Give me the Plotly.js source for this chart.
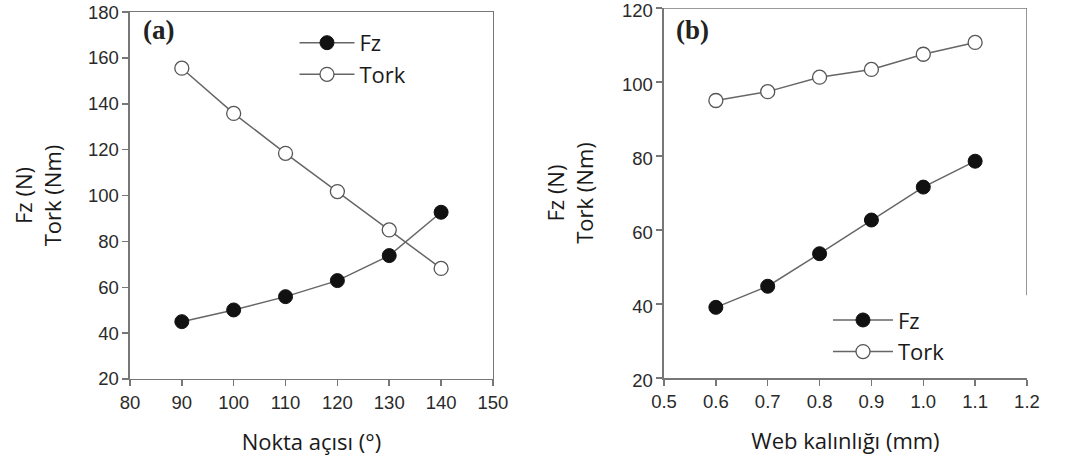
<!DOCTYPE html>
<html>
<head>
<meta charset="utf-8">
<script src="https://cdn.plot.ly/plotly-3.0.1.min.js"></script>
<style>html,body{margin:0;padding:0;background:#fff;}#chart{width:1067px;height:466px;}</style>
</head>
<body>
<div id="chart"></div>
<script>
// Panel (a): point angle
const angleX = [90, 100, 110, 120, 130, 140];
const angleFz = [45, 50.1, 55.9, 62.9, 73.8, 92.7];
const angleTork = [155.5, 135.8, 118.4, 101.7, 85, 68.2];
// Panel (b): web thickness
const webX = [0.6, 0.7, 0.8, 0.9, 1.0, 1.1];
const webFz = [39.1, 44.8, 53.6, 62.7, 71.6, 78.6];
const webTork = [95, 97.4, 101.3, 103.4, 107.5, 110.7];
const seriesNames = ['Fz', 'Tork'];

const lineCol = '#666';
const fzMarker = {symbol: 'circle', size: 14, color: '#111', line: {color: '#111', width: 1}};
const torkMarker = {symbol: 'circle', size: 14, color: '#fff', line: {color: '#555', width: 1.3}};

const traces = [
  {x: angleX, y: angleFz, name: seriesNames[0], mode: 'lines+markers', xaxis: 'x', yaxis: 'y', line: {color: lineCol, width: 1.5}, marker: fzMarker, legend: 'legend'},
  {x: angleX, y: angleTork, name: seriesNames[1], mode: 'lines+markers', xaxis: 'x', yaxis: 'y', line: {color: lineCol, width: 1.5}, marker: torkMarker, legend: 'legend'},
  {x: webX, y: webFz, name: seriesNames[0], mode: 'lines+markers', xaxis: 'x2', yaxis: 'y2', line: {color: lineCol, width: 1.5}, marker: fzMarker, legend: 'legend2'},
  {x: webX, y: webTork, name: seriesNames[1], mode: 'lines+markers', xaxis: 'x2', yaxis: 'y2', line: {color: lineCol, width: 1.5}, marker: torkMarker, legend: 'legend2'}
];

const tickFont = {family: 'Liberation Sans, Arial, sans-serif', size: 18.5, color: '#2a2a2a'};
const titleFont = {family: 'Open Sans, sans-serif', size: 22, color: '#1a1a1a'};
const legendFont = {family: 'Open Sans, sans-serif', size: 22, color: '#1a1a1a'};
const axisBase = {showgrid: false, zeroline: false, showline: true, linecolor: '#777', linewidth: 1.5, ticks: 'outside', ticklen: 6, tickcolor: '#777', tickwidth: 1.5, tickfont: tickFont, fixedrange: true, ticklabeloverflow: 'allow'};

const layout = {
  width: 1067, height: 466,
  margin: {l: 0, r: 0, t: 0, b: 0},
  paper_bgcolor: '#fff', plot_bgcolor: '#fff',
  showlegend: true,
  xaxis: Object.assign({}, axisBase, {domain: [0.1218, 0.4620], range: [80, 150], dtick: 10, tick0: 80, mirror: true, anchor: 'y',
    title: {text: 'Nokta açısı (°)', font: titleFont, standoff: 23}}),
  yaxis: Object.assign({}, axisBase, {domain: [0.1867, 0.9742], range: [20, 180], dtick: 20, tick0: 20, mirror: true, anchor: 'x',
    title: {text: 'Fz (N)<br>Tork (Nm)', font: titleFont, standoff: 20}}),
  xaxis2: Object.assign({}, axisBase, {domain: [0.6223, 0.9625], range: [0.5, 1.2], dtick: 0.1, tick0: 0.5, tickformat: '.1f', mirror: false, anchor: 'y2',
    title: {text: 'Web kalınlığı (mm)', font: titleFont, standoff: 23}}),
  yaxis2: Object.assign({}, axisBase, {domain: [0.1888, 0.9828], range: [20, 120], dtick: 20, tick0: 20, mirror: false, anchor: 'x2', ticklabelshift: 3,
    title: {text: 'Fz (N)<br>Tork (Nm)', font: titleFont, standoff: 22}}),
  shapes: [
    {type: 'line', xref: 'x2', yref: 'y2', x0: 0.5, x1: 1.2, y0: 120, y1: 120, line: {color: '#777', width: 1.5}},
    {type: 'line', xref: 'x2', yref: 'y2', x0: 1.2, x1: 1.2, y0: 42.4, y1: 120, line: {color: '#777', width: 1.5}}
  ],
  legend: {x: 0.276, y: 0.953, xanchor: 'left', yanchor: 'top', bgcolor: 'rgba(0,0,0,0)', font: legendFont, tracegroupgap: 0, itemwidth: 55},
  legend2: {x: 0.776, y: 0.358, xanchor: 'left', yanchor: 'top', bgcolor: 'rgba(0,0,0,0)', font: legendFont, tracegroupgap: 0, itemwidth: 60},
  annotations: [
    {xref: 'paper', yref: 'paper', x: 0.132, y: 0.935, xanchor: 'left', yanchor: 'middle', showarrow: false, text: '<b>(a)</b>', font: {family: 'Liberation Serif, DejaVu Serif, serif', size: 27, color: '#222'}},
    {xref: 'paper', yref: 'paper', x: 0.632, y: 0.935, xanchor: 'left', yanchor: 'middle', showarrow: false, text: '<b>(b)</b>', font: {family: 'Liberation Serif, DejaVu Serif, serif', size: 27, color: '#222'}}
  ]
};

Plotly.newPlot('chart', traces, layout, {displayModeBar: false, staticPlot: true});
</script>
</body>
</html>
